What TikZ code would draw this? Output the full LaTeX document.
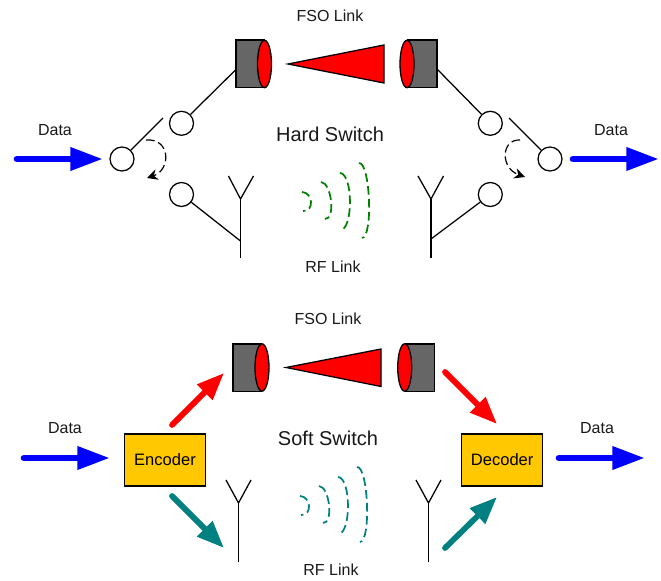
\documentclass[tikz,border=0pt]{standalone}
\usepackage{fontspec}
\setmainfont{Liberation Sans}
\usetikzlibrary{arrows.meta,calc}
\definecolor{boxyellow}{HTML}{FFC800}
\definecolor{cylgrey}{HTML}{666666}
\definecolor{wavegreen}{HTML}{008000}
\definecolor{tealc}{HTML}{008080}
\tikzset{
  x=0.75pt,y=-0.75pt,
  wire/.style={draw=black,line width=0.95pt},
  port/.style={circle,draw=black,line width=0.95pt,fill=white,minimum size=18pt,inner sep=0pt},
  label/.style={inner sep=0pt,font=\fontsize{12}{14}\selectfont,text=black!90},
  title/.style={inner sep=0pt,font=\fontsize{15}{18}\selectfont,text=black!90},
  codec/.style={draw=black,line width=1pt,fill=boxyellow,minimum width=60.75pt,minimum height=39.2pt,inner sep=0pt,font=\fontsize{12.4}{14}\selectfont},
  bigarrow/.style={line width=5pt,line cap=round,-{Triangle[length=24.5pt,width=16.5pt]}},
  diagarrow/.style={line width=4.3pt,line cap=round,-{Triangle[length=20.5pt,width=15.5pt]}},
  swarrow/.style={line width=0.9pt,dash pattern=on 6.5pt off 3pt,-{Stealth[length=8pt,width=8pt]}},
  beam/.style={draw=black,line width=0.95pt,fill=red,line join=miter},
  lens/.style={draw=black,line width=0.95pt,fill=red},
  can/.style={draw=black,line width=0.95pt,fill=cylgrey},
  wavearc/.style={line width=1.3pt,dash pattern=on 6.5pt off 3.2pt},
}
\newcommand{\wavearcs}[1]{%
  \draw[wavearc,#1] (302,192) .. controls (313.3,192.7) and (314.3,211.7) .. (303,211);
  \draw[wavearc,#1] (321,182) .. controls (331.7,182.7) and (335.7,219.7) .. (325,219);
  \draw[wavearc,#1] (340,173) .. controls (353.3,173.7) and (353.3,230.7) .. (340,230);
  \draw[wavearc,#1] (359,163) .. controls (370.3,162.3) and (373.3,237.3) .. (362,238);
}
\begin{document}
\begin{tikzpicture}
\path[fill=white,use as bounding box] (0,0) rectangle (661,581);

% ---------- Hard switch ----------
\node[label] (fsoA) at (330,16) {FSO Link};
\node[title] (hard) at (330,134) {Hard Switch};
\node[label] (rfA) at (333,267) {RF Link};
\node[label] (dataAl) at (55,130) {Data};
\node[label] (dataAr) at (611,130) {Data};

% transmit / receive heads
\draw[can] (264.5,40) -- (236,40) -- (236,87.5) -- (264.5,87.5);
\draw[lens] (264.5,64) ellipse [x radius=7,y radius=23.7];
\draw[can] (407,40) -- (437,40) -- (437,87.5) -- (407,87.5);
\draw[lens] (407,64) ellipse [x radius=7,y radius=23.7];
\draw[beam] (288,64) -- (384,45) -- (384,83) -- cycle;

\coordinate (canAl) at (236,69.5);
\coordinate (canAr) at (437,69);
\node[port] (upAl) at (181.5,123.3) {};
\node[port] (loAl) at (181.5,194.5) {};
\node[port] (swAl) at (122,159) {};
\node[port] (upAr) at (490.3,123.3) {};
\node[port] (loAr) at (490.3,194.5) {};
\node[port] (swAr) at (550,159) {};
\coordinate (bladeAl) at (163,118);
\coordinate (bladeAr) at (509,118);

\draw[wire] (canAl) -- (upAl);
\draw[wire] (canAr) -- (upAr);
\draw[wire] (swAl) -- (bladeAl);
\draw[wire] (swAr) -- (bladeAr);

% antennas
\coordinate (antAlT) at (240.5,199);
\coordinate (antAlB) at (240.5,258.5);
\coordinate (antAlF) at (240.5,241);
\draw[wire] (228.5,176) -- (antAlT) -- (253.5,176);
\draw[wire] (antAlT) -- (antAlB);
\draw[wire] (loAl) -- (antAlF);
\coordinate (antArT) at (431,199);
\coordinate (antArB) at (431,258.5);
\coordinate (antArF) at (431,239);
\draw[wire] (418,176) -- (antArT) -- (443.5,176);
\draw[wire] (antArT) -- (antArB);
\draw[wire] (loAr) -- (antArF);

% switch motion
\draw[swarrow] (146,140) .. controls (171,138) and (171,170) .. (147,178);
\draw[swarrow] (520,140) .. controls (501,139) and (500,168) .. (525,177);

% data arrows
\coordinate (inA) at (17,159);
\coordinate (inAend) at (103,159);
\coordinate (outA) at (573,159);
\coordinate (outAend) at (659,159);
\draw[bigarrow,blue] (inA) -- (inAend);
\draw[bigarrow,blue] (outA) -- (outAend);

\wavearcs{wavegreen}

% ---------- Soft switch ----------
\node[label] (fsoB) at (328,319) {FSO Link};
\node[title] (soft) at (328,438) {Soft Switch};
\node[label] (rfB) at (331,570) {RF Link};
\node[label] (dataBl) at (65,428) {Data};
\node[label] (dataBr) at (597,428) {Data};

\draw[can] (262,344) -- (233,344) -- (233,391.5) -- (262,391.5);
\draw[lens] (262,367.5) ellipse [x radius=7,y radius=23.7];
\draw[can] (404.7,344) -- (434.7,344) -- (434.7,391.5) -- (404.7,391.5);
\draw[lens] (404.7,367.5) ellipse [x radius=7,y radius=23.7];
\draw[beam] (286,367.5) -- (381,349) -- (381,386.5) -- cycle;

\node[codec] (enc) at (165,460) {Encoder};
\node[codec] (dec) at (502.2,460) {Decoder};

\coordinate (inB) at (24,458);
\coordinate (inBend) at (110,458);
\coordinate (outB) at (559,458);
\coordinate (outBend) at (645,458);
\draw[bigarrow,blue] (inB) -- (inBend);
\draw[bigarrow,blue] (outB) -- (outBend);

\coordinate (rA) at (172,425);
\coordinate (rAend) at (224,373);
\coordinate (rB) at (445,372);
\coordinate (rBend) at (497,424);
\coordinate (tA) at (172,496);
\coordinate (tAend) at (224,548);
\coordinate (tB) at (445,548);
\coordinate (tBend) at (497,497);
\draw[diagarrow,red] (rA) -- (rAend);
\draw[diagarrow,red] (rB) -- (rBend);
\draw[diagarrow,tealc] (tA) -- (tAend);
\draw[diagarrow,tealc] (tB) -- (tBend);

\coordinate (antBlT) at (238.5,503);
\coordinate (antBlB) at (238.5,562);
\draw[wire] (226,480) -- (antBlT) -- (251,480);
\draw[wire] (antBlT) -- (antBlB);
\coordinate (antBrT) at (428.5,503);
\coordinate (antBrB) at (428.5,562);
\draw[wire] (416,480) -- (antBrT) -- (441,480);
\draw[wire] (antBrT) -- (antBrB);

\begin{scope}[shift={(-2,304)}]
\wavearcs{tealc}
\end{scope}
\end{tikzpicture}
\end{document}
